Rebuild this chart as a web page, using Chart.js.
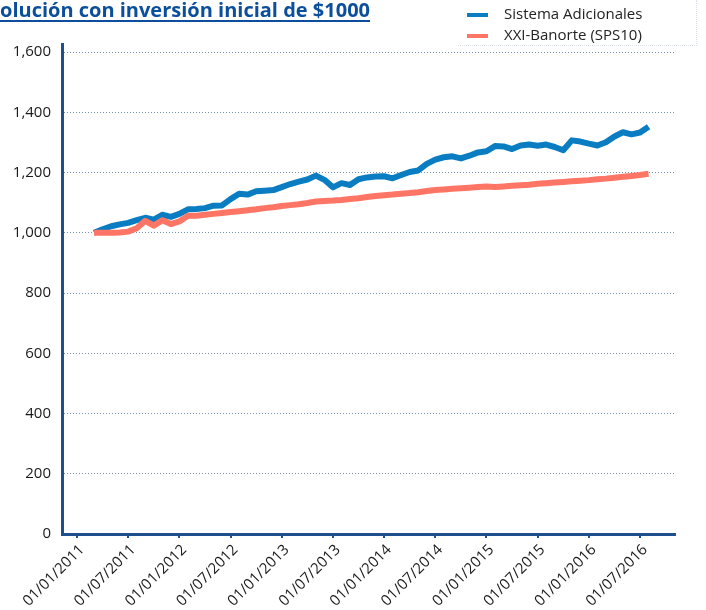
<!DOCTYPE html>
<html>
<head>
<meta charset="utf-8">
<script src="https://cdn.jsdelivr.net/npm/chart.js@4.4.1/dist/chart.umd.min.js"></script>
<style>
body{margin:0;background:#fff;}
#wrap{position:relative;width:706px;height:610px;overflow:hidden;}
#titulo{position:absolute;left:0;top:-4px;font:bold 20px "Open Sans";color:#0b4f9c;text-decoration:underline;text-decoration-thickness:2px;text-underline-offset:3px;white-space:nowrap;}
#leyenda{position:absolute;left:458px;top:0;width:238px;height:45px;border-right:1px dotted #dde2ea;border-bottom:1px dotted #dde2ea;font:15px "Open Sans";color:#222;}
.item{position:absolute;left:9px;height:20px;line-height:20px;white-space:nowrap;}
.linea{display:inline-block;width:21px;height:4px;vertical-align:middle;margin-right:16px;}
</style>
</head>
<body>
<div id="wrap">
<canvas id="grafica" width="706" height="610"></canvas>
<div id="titulo">olución con inversión inicial de $1000</div>
<div id="leyenda"></div>
</div>
<script>
// meses contados desde enero 2011 (0 = 01/01/2011)
var mesesTicks = [0, 6, 12, 18, 24, 30, 36, 42, 48, 54, 60, 66];
var etiquetasX = ['01/01/2011', '01/07/2011', '01/01/2012', '01/07/2012', '01/01/2013', '01/07/2013',
                  '01/01/2014', '01/07/2014', '01/01/2015', '01/07/2015', '01/01/2016', '01/07/2016'];
var valoresY = [0, 200, 400, 600, 800, 1000, 1200, 1400, 1600];
var mesInicial = 2; // marzo 2011

var sistemaAdicionales = [1000, 1012, 1022, 1028, 1033, 1042, 1050, 1044, 1060, 1053,
  1063, 1078, 1079, 1082, 1090, 1091, 1112, 1130, 1127, 1138,
  1140, 1142, 1152, 1162, 1170, 1177, 1190, 1176, 1151, 1165,
  1159, 1178, 1184, 1187, 1188, 1181, 1192, 1202, 1207, 1229,
  1243, 1251, 1254, 1247, 1256, 1267, 1271, 1288, 1287, 1278,
  1290, 1293, 1289, 1293, 1285, 1274, 1307, 1303, 1296, 1290,
  1301, 1320, 1334, 1327, 1333, 1352];

var xxiBanorte = [1000, 1000, 1000, 1001, 1004, 1015, 1040, 1024, 1042, 1029,
  1038, 1057, 1057, 1060, 1063, 1066, 1069, 1072, 1075, 1078,
  1082, 1085, 1089, 1092, 1095, 1099, 1104, 1106, 1107, 1109,
  1112, 1115, 1119, 1122, 1125, 1127, 1130, 1132, 1135, 1139,
  1142, 1144, 1146, 1148, 1150, 1152, 1154, 1152, 1154, 1156,
  1158, 1160, 1163, 1165, 1167, 1169, 1171, 1173, 1175, 1178,
  1180, 1183, 1186, 1189, 1192, 1196];

function puntos(serie) {
  return serie.map(function (v, i) { return {x: mesInicial + i, y: v}; });
}

var azulEje = '#1f4f8f';

var grafica = new Chart('grafica', {
  type: 'line',
  data: {
    datasets: [{
      label: 'Sistema Adicionales',
      data: puntos(sistemaAdicionales),
      borderColor: '#0a7dc2',
      borderWidth: 6,
      pointRadius: 0,
      borderJoinStyle: 'round',
      order: 1
    }, {
      label: 'XXI-Banorte (SPS10)',
      data: puntos(xxiBanorte),
      borderColor: '#ff7565',
      borderWidth: 6,
      pointRadius: 0,
      borderJoinStyle: 'round',
      order: 0
    }]
  },
  options: {
    responsive: false,
    animation: false,
    layout: {padding: {top: 44, right: 31, left: 0, bottom: 0}},
    plugins: {legend: {display: false}, tooltip: {enabled: false}},
    scales: {
      x: {
        type: 'linear',
        min: -1.76,
        max: 70.1,
        afterBuildTicks: function (s) { s.ticks = mesesTicks.map(function (v) { return {value: v}; }); },
        afterFit: function (s) { s.height = 76; },
        grid: {drawOnChartArea: false, drawTicks: true, tickLength: 4, color: azulEje, lineWidth: 2},
        border: {color: azulEje, width: 3},
        ticks: {
          autoSkip: false, minRotation: 45, maxRotation: 45, padding: 3, labelOffset: 5,
          color: '#1a1a1a', font: {family: 'Open Sans', size: 15},
          callback: function (v) { return etiquetasX[mesesTicks.indexOf(v)]; }
        }
      },
      y: {
        min: 0,
        max: 1627,
        afterBuildTicks: function (s) { s.ticks = valoresY.map(function (v) { return {value: v}; }); },
        afterFit: function (s) { s.width = 62; },
        grid: {color: 'rgba(80,115,170,0.8)', lineWidth: 1, drawTicks: false},
        border: {color: azulEje, width: 3, dash: [1, 2]},
        ticks: {
          padding: 11, color: '#1a1a1a', font: {family: 'Open Sans', size: 15},
          callback: function (v) { return v.toLocaleString('en-US'); }
        }
      }
    }
  }
});

// leyenda
var leyenda = document.getElementById('leyenda');
grafica.data.datasets.forEach(function (ds, i) {
  var item = document.createElement('div');
  item.className = 'item';
  item.style.top = (3 + i * 21) + 'px';
  item.innerHTML = '<span class="linea" style="background:' + ds.borderColor + '"></span>' + ds.label;
  leyenda.appendChild(item);
});
</script>
</body>
</html>
